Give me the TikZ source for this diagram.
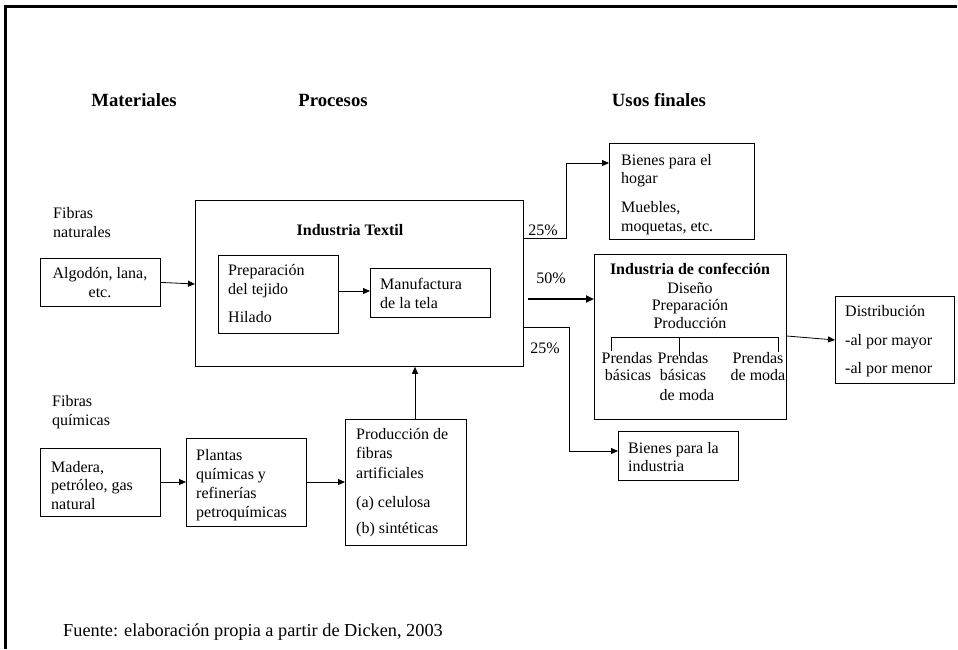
\documentclass[tikz,border=0pt]{standalone}
\usepackage{fontspec}
\setmainfont{Liberation Serif}
\usetikzlibrary{arrows.meta}
\tikzset{
  box/.style={draw, line width=0.8pt, inner sep=0pt, anchor=north west},
  tx/.style={inner sep=0pt, anchor=base west, font=\fontsize{16}{19}\selectfont},
  tc/.style={inner sep=0pt, anchor=base, font=\fontsize{16}{19}\selectfont},
  tb/.style={inner sep=0pt, anchor=base, font=\fontsize{16}{19}\selectfont\bfseries},
  hd/.style={inner sep=0pt, anchor=base, font=\fontsize{18.7}{22}\selectfont\bfseries},
  arr/.style={line width=0.8pt, -{Triangle[length=7pt,width=6pt]}},
  ln/.style={line width=0.8pt},
}
\begin{document}
\begin{tikzpicture}[x=1pt,y=-1pt]
\useasboundingbox (0,0) rectangle (958,649);
% frame
\coordinate (fa) at (5,649);
\coordinate (fb) at (5,6);
\coordinate (fc) at (957,6);
\draw[line width=3pt] (fa) -- (fb) -- (fc);

% headings
\node[hd] (hmat) at (134,106) {Materiales};
\node[hd] (hpro) at (333,106) {Procesos};
\node[hd] (huso) at (659,106) {Usos finales};

% Fibras naturales
\node[tx] (fn1) at (53,218) {Fibras};
\node[tx] (fn2) at (53,237) {naturales};
\node[box, minimum width=120pt, minimum height=48pt] (alg) at (40,258) {};
\node[tc] (alg1) at (100,278) {Algodón, lana,};
\node[tc] (alg2) at (100,297) {etc.};

% Industria textil
\node[box, minimum width=328pt, minimum height=166pt] (ind) at (195,200) {};
\node[tb] (ind1) at (350,235) {Industria Textil};
\node[box, minimum width=120pt, minimum height=78pt] (prep) at (218,255) {};
\node[tx] (prep1) at (228,275) {Preparación};
\node[tx] (prep2) at (228,294) {del tejido};
\node[tx] (prep3) at (228,322) {Hilado};
\node[box, minimum width=120pt, minimum height=49pt] (manu) at (370,268) {};
\node[tx] (manu1) at (380,289) {Manufactura};
\node[tx] (manu2) at (380,308) {de la tela};
\draw[arr] (alg.east) -- (195,284) coordinate (algin);
\draw[arr] (prep.east |- 0,291) -- (manu.west |- 0,291);

% percentages
\node[tc] (p25a) at (543,235) {25\%};
\node[tc] (p50) at (551,283) {50\%};
\node[tc] (p25b) at (545,353) {25\%};

% Bienes para el hogar
\node[box, minimum width=145pt, minimum height=96pt] (hog) at (609,143) {};
\node[tx] (hog1) at (621,165) {Bienes para el};
\node[tx] (hog2) at (621,183) {hogar};
\node[tx] (hog3) at (621,212) {Muebles,};
\node[tx] (hog4) at (621,231) {moquetas, etc.};
\draw[arr] (ind.east |- 0,238) -- (566,238) -- (566,163) -- (hog.west |- 0,163);

% Industria de confeccion
\node[box, minimum width=192pt, minimum height=165pt] (conf) at (594,254) {};
\node[tb] (conf1) at (690,274) {Industria de confección};
\node[tc] (conf2) at (690,293) {Diseño};
\node[tc] (conf3) at (690,310.5) {Preparación};
\node[tc] (conf4) at (690,328) {Producción};
\coordinate (bl) at (611,337);
\coordinate (br) at (778,337);
\draw[ln] (611,351) -- (bl) -- (br) -- (778,352);
\draw[ln] (679,337) -- (679,356);
\node[tc] (c1a) at (627,363) {Prendas};
\node[tc] (c1b) at (628,380) {básicas};
\node[tc] (c2a) at (683,363) {Prendas};
\node[tc] (c2b) at (683,380) {básicas};
\node[tc] (c2c) at (687,400) {de moda};
\node[tc] (c3a) at (758,363) {Prendas};
\node[tc] (c3b) at (758,380) {de moda};
\draw[line width=2.4pt, -{Triangle[length=8pt,width=7pt]}] (528,299) -- (conf.west |- 0,299);

% Distribucion
\node[box, minimum width=119pt, minimum height=87pt] (dist) at (835,296) {};
\node[tx] (dist1) at (845,316) {Distribución};
\node[tx] (dist2) at (845,345) {-al por mayor};
\node[tx] (dist3) at (845,373) {-al por menor};
\draw[arr] (conf.east |- 0,336) -- (dist.west |- 0,340);

% Bienes para la industria
\node[box, minimum width=120pt, minimum height=49pt] (bind) at (618,431) {};
\node[tx] (bind1) at (628,453) {Bienes para la};
\node[tx] (bind2) at (628,471) {industria};
\draw[arr] (ind.east |- 0,327) -- (569,327) -- (569,451) -- (bind.west |- 0,451);

% Fibras quimicas
\node[tx] (fq1) at (52,406) {Fibras};
\node[tx] (fq2) at (52,425) {químicas};
\node[box, minimum width=120pt, minimum height=68pt] (mad) at (40,448) {};
\node[tx] (mad1) at (51,472) {Madera,};
\node[tx] (mad2) at (51,490.5) {petróleo, gas};
\node[tx] (mad3) at (51,509) {natural};
\node[box, minimum width=120pt, minimum height=88pt] (pla) at (186,438) {};
\node[tx] (pla1) at (196,460) {Plantas};
\node[tx] (pla2) at (196,479) {químicas y};
\node[tx] (pla3) at (196,498) {refinerías};
\node[tx] (pla4) at (196,517) {petroquímicas};
\node[box, minimum width=121pt, minimum height=126pt] (prod) at (345,419) {};
\node[tx] (prod1) at (356,439) {Producción de};
\node[tx] (prod2) at (356,458) {fibras};
\node[tx] (prod3) at (356,478) {artificiales};
\node[tx] (prod4) at (356,507) {(a) celulosa};
\node[tx] (prod5) at (356,533) {(b) sintéticas};
\draw[arr] (mad.east |- 0,482) -- (pla.west |- 0,482);
\draw[arr] (pla.east |- 0,482) -- (prod.west |- 0,482);
\draw[arr] (prod.north -| 415,0) -- (ind.south -| 415,0);

% source
\node[inner sep=0pt, anchor=base west, font=\fontsize{18.3}{21}\selectfont] (src) at (63,636) {Fuente: elaboración propia a partir de Dicken, 2003};
\end{tikzpicture}
\end{document}
